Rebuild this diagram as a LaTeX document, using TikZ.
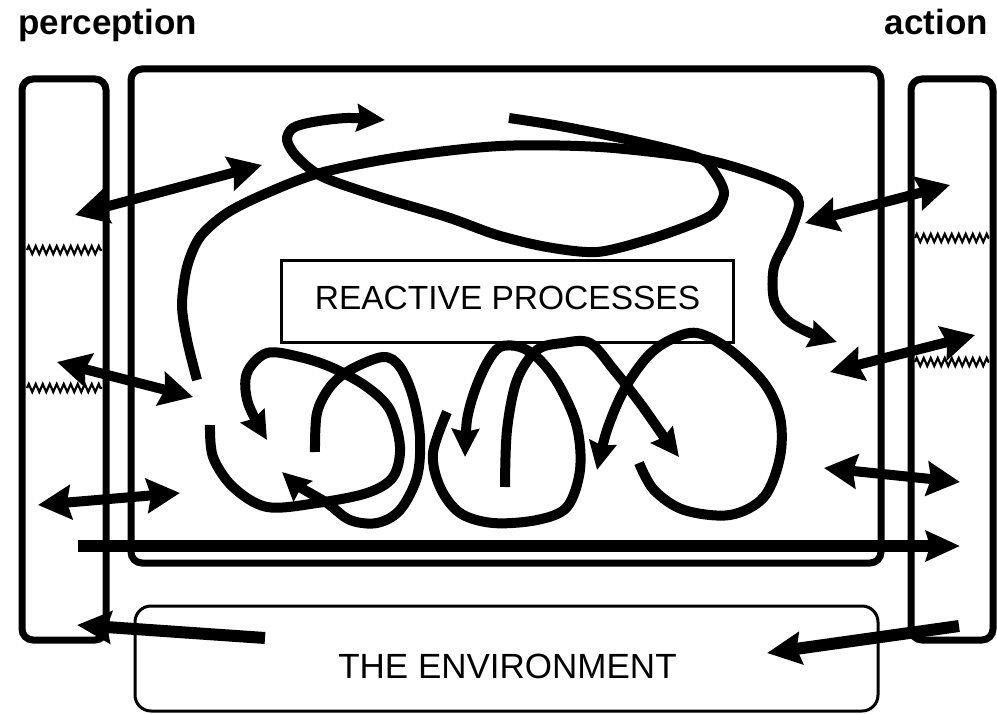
\documentclass[tikz,border=0pt]{standalone}
\usepackage{fontspec}
\setmainfont{Liberation Sans}
\usetikzlibrary{arrows.meta,decorations.pathmorphing}

\begin{document}
\begin{tikzpicture}[x=1pt,y=-1pt,
  frame/.style={line width=7pt,rounded corners=11pt},
  thinbox/.style={draw,line width=3pt,inner sep=0pt},
  sidetitle/.style={inner sep=0pt,font=\fontsize{35pt}{40pt}\selectfont\bfseries},
  boxtext/.style={inner sep=0pt,font=\fontsize{33.5pt}{40pt}\selectfont},
  twoway/.style={line width=10pt,{Stealth[length=33pt,width=34pt,inset=4pt]}-{Stealth[length=33pt,width=34pt,inset=4pt]}},
  oneway/.style={line width=12pt,-{Stealth[length=34pt,width=32pt,inset=4pt]}},
  flow/.style={line width=10pt,-{Stealth[length=28pt,width=27pt,inset=3pt]}},
  hatch/.style={line width=2.2pt,decorate,decoration={zigzag,segment length=7pt,amplitude=4pt}}]
\useasboundingbox (0,0) rectangle (997,714);

\node[sidetitle,anchor=base west] (perc) at (18,35) {perception};
\node[sidetitle,anchor=base east] (act) at (988,35) {action};

% sensor and actuator columns
\foreach \y in {250,388} \draw[hatch] (27,\y) -- (102,\y);
\foreach \y in {238,362} \draw[hatch] (915,\y) -- (989,\y);
\draw[frame] (22,79) rectangle (106,640);
\draw[frame] (131,69) rectangle (881,563);
\draw[frame] (911,79) rectangle (993,640);

\node[thinbox,minimum width=452pt,minimum height=82pt] (reactbox) at (507,302) {};
\node[boxtext,anchor=base] (reacttext) at (507.5,310) {REACTIVE PROCESSES};
\node[thinbox,rounded corners=16pt,minimum width=743pt,minimum height=105pt] (envbox) at (506.5,658.5) {};
\node[boxtext,anchor=base,font=\fontsize{35pt}{40pt}\selectfont] (envtext) at (507.5,678) {THE ENVIRONMENT};

% perception side
\coordinate (p1a) at (75,215);  \coordinate (p1b) at (262,165);
\coordinate (p2a) at (57,362);  \coordinate (p2b) at (193,397);
\coordinate (p3a) at (38,505);  \coordinate (p3b) at (180,493);
\coordinate (p4a) at (265,638); \coordinate (p4b) at (77,625);
\draw[twoway] (p1a) -- (p1b);
\draw[twoway] (p2a) -- (p2b);
\draw[twoway] (p3a) -- (p3b);
\draw[oneway] (p4a) -- (p4b);

% action side
\coordinate (a1a) at (805,223); \coordinate (a1b) at (950,185);
\coordinate (a2a) at (830,372); \coordinate (a2b) at (975,335);
\coordinate (a3a) at (824,468); \coordinate (a3b) at (960,482);
\coordinate (a4a) at (959,626); \coordinate (a4b) at (767,653);
\draw[twoway] (a1a) -- (a1b);
\draw[twoway] (a2a) -- (a2b);
\draw[twoway] (a3a) -- (a3b);
\draw[oneway] (a4a) -- (a4b);

\coordinate (longa) at (78,546); \coordinate (longb) at (960,546);
\draw[line width=12pt,-{Stealth[length=34pt,width=30pt,inset=4pt]}] (longa) -- (longb);

% upper loops
\draw[flow] plot[smooth,tension=0.5] coordinates {(509,118) (560,126) (630,140) (697,157) (714,172) (724,193) (714,213) (690,225) (647,240) (597,252) (547,247) (497,235) (447,217) (380,197) (323,177) (297,157) (287,140) (293,128) (313,122) (347,118) (385,120)};
\draw[flow] plot[smooth,tension=0.5] coordinates {(197,380) (187,340) (182,305) (187,267) (200,237) (227,213) (267,193) (320,173) (400,157) (500,146) (600,147) (697,158) (750,172) (787,187) (799,203) (790,233) (774,267) (774,300) (787,320) (810,333) (837,342)};

% lower loops
\draw[flow] plot[smooth,tension=0.55] coordinates {(210,425) (213,457) (233,487) (267,507) (317,503) (367,493) (393,477) (400,447) (390,410) (367,387) (333,368) (300,357) (267,353) (247,373) (248,403) (267,440)};
\draw[flow] plot[smooth,tension=0.55] coordinates {(315,452) (317,413) (330,387) (350,370) (383,357) (400,367) (413,397) (420,437) (417,477) (400,510) (377,523) (350,520) (327,503) (300,487) (282,472)};
\draw[flow] plot[smooth,tension=0.55] coordinates {(447,412) (433,453) (440,487) (460,513) (493,523) (537,520) (567,507) (580,470) (577,427) (560,387) (540,360) (520,347) (500,347) (487,363) (475,390) (467,420) (465,457)};
\draw[flow] plot[smooth,tension=0.55] coordinates {(505,487) (507,430) (517,380) (537,350) (563,343) (590,343) (614,370) (640,403) (664,437) (679,457)};
\draw[flow] plot[smooth,tension=0.55] coordinates {(639,463) (654,490) (684,510) (730,515) (764,497) (780,457) (780,417) (764,383) (730,350) (697,333) (670,340) (647,357) (624,390) (607,430) (597,470)};
\end{tikzpicture}
\end{document}
